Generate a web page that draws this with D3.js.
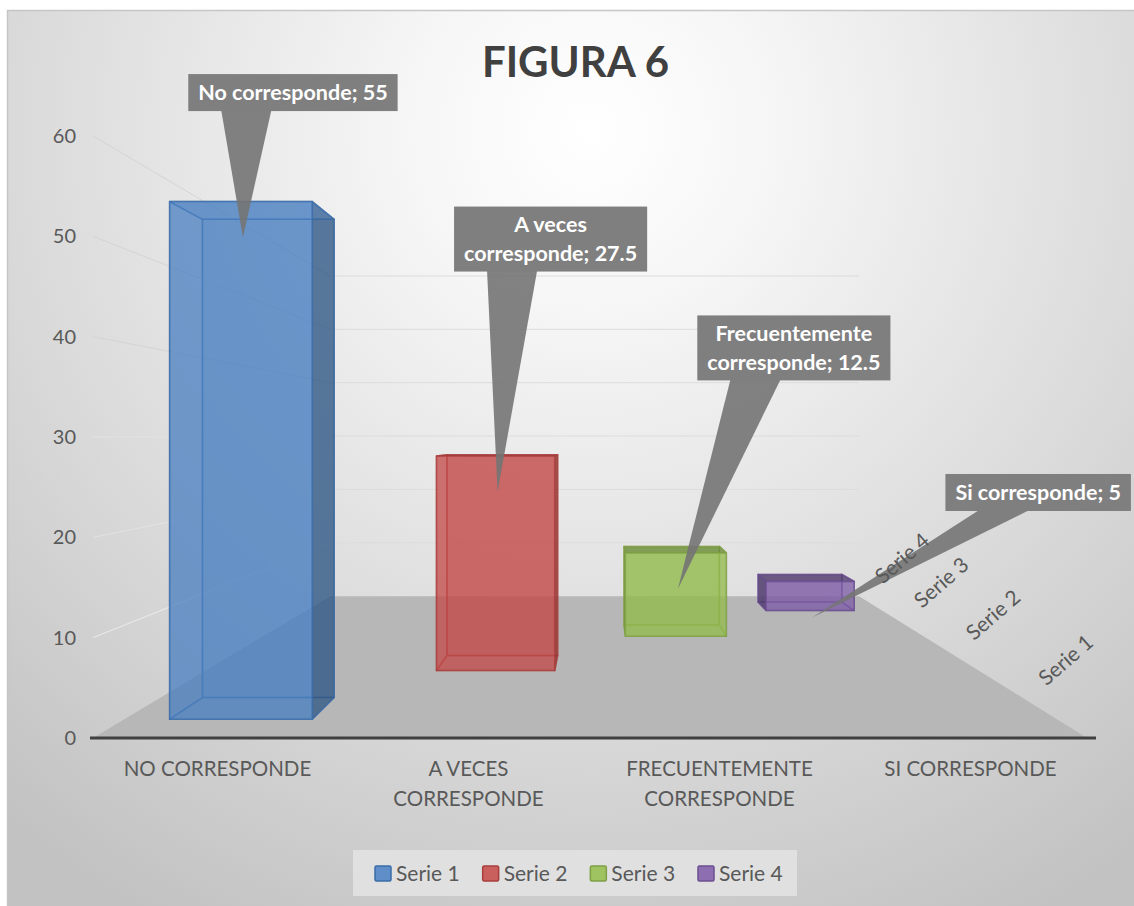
<!DOCTYPE html>
<html><head><meta charset="utf-8">
<style>html,body{margin:0;padding:0;background:#fff}svg{display:block}text{font-family:Lato,"Noto Sans",sans-serif}</style>
<script src="https://cdn.jsdelivr.net/npm/d3@7"></script></head><body>
<svg id="c" width="1134" height="906"></svg>
<script>
const title = "FIGURA 6";
const categories = ["NO CORRESPONDE","A VECES CORRESPONDE","FRECUENTEMENTE CORRESPONDE","SI CORRESPONDE"];
const categoryLines = [["NO CORRESPONDE"],["A VECES","CORRESPONDE"],["FRECUENTEMENTE","CORRESPONDE"],["SI CORRESPONDE"]];
const seriesNames = ["Serie 1","Serie 2","Serie 3","Serie 4"];
const values = [55,27.5,12.5,5];
const yTicks = [0,10,20,30,40,50,60];
const calloutLines = [["No corresponde; 55"],["A veces","corresponde; 27.5"],["Frecuentemente","corresponde; 12.5"],["Si corresponde; 5"]];
const calloutDx = [50,53,116,226];
const calloutDy = [-145,-253,-241,-125];
const barFill = ["#4a7fc0","#c24a48","#93bb4c","#7d5ba6"];
const barDark = ["#2f5480","#8a2f2d","#6a8a35","#4d3a6b"];
const barEdge = ["#3a6ca8","#a83f3c","#7f9f45","#6a4f90"];

const svg = d3.select("#c");
const W = 1134, H = 906;
const defs = svg.append("defs");
const bg = defs.append("radialGradient").attr("id","bg").attr("gradientUnits","userSpaceOnUse")
  .attr("cx",590).attr("cy",130).attr("r",900);
[[0,"#ffffff"],[.2,"#f6f6f6"],[.45,"#e6e6e6"],[.7,"#d6d6d6"],[1,"#c2c2c2"]].forEach(s=>bg.append("stop").attr("offset",s[0]).attr("stop-color",s[1]));
svg.append("rect").attr("x",7).attr("y",10).attr("width",W-7).attr("height",H-10).attr("fill","url(#bg)");
svg.append("path").attr("d",`M7.5,${H} V10.5 H${W}`).attr("fill","none").attr("stroke","#c6c6c6").attr("stroke-width",1.5);

// scales and perspective projection
const y = d3.scaleLinear().domain([0,60]).range([738,136]);
const x = d3.scaleBand().domain(categories).range([93,1087]).paddingInner(0.388).paddingOuter(0.194);
const xAxisScale = d3.scaleBand().domain(categories).range([92,1096]);
const depth = d3.scalePoint().domain(seriesNames).range([0.5,3.5]);
const vp = [600,435], k = 0.22, floorDepth = 4, barHalfDepth = 0.2;
const persp = d => 1/(1+k*d);
function project(X,Y,d){const s=persp(d);return [vp[0]+s*(X-vp[0]),vp[1]+s*(Y-vp[1])];}
const poly = pts => "M"+pts.map(p=>p.join(",")).join("L")+"Z";
const X0 = 93, X1 = 1087;

// floor
svg.append("path").attr("d",poly([project(X0,y(0),0),project(X0,y(0),floorDepth),project(X1,y(0),floorDepth),project(X1,y(0),0)])).attr("fill","#b7b7b7");
// gridlines: left wall + back wall
const grid = svg.append("g").attr("fill","none");
yTicks.forEach(t=>{
  if(t===0) return;
  const a=project(X0,y(t),0), b=project(X0,y(t),floorDepth), c=project(X1,y(t),floorDepth);
  grid.append("path").attr("d",`M${a}L${b}`).attr("stroke",t<=10?"#ececec":(t<=30?"#e2e2e2":"#d4d4d4")).attr("stroke-width",1);
  grid.append("path").attr("d",`M${b}L${c}`).attr("stroke","#dcdcdc").attr("stroke-width",1);
});

// bars
const gBars = svg.append("g");
values.forEach((v,i)=>{
  const cat=categories[i], xa=x(cat), xb=xa+x.bandwidth(), yt=y(v), yb=y(0);
  const d=depth(seriesNames[i]), f=d-barHalfDepth, r=d+barHalfDepth;
  const P=(X,Y,D)=>project(X,Y,D);
  const face=(pts,fill,op)=>gBars.append("path").attr("d",poly(pts)).attr("fill",fill).attr("fill-opacity",op)
      .attr("stroke",barEdge[i]).attr("stroke-width",1.5).attr("stroke-opacity",.65).attr("stroke-linejoin","round");
  const leftOuter = xa>vp[0], rightOuter = xb<vp[0], topOuter = yt>vp[1];
  face([P(xa,yt,r),P(xb,yt,r),P(xb,yb,r),P(xa,yb,r)],barFill[i],.3);
  face([P(xa,yb,f),P(xb,yb,f),P(xb,yb,r),P(xa,yb,r)],barFill[i],.2);
  face([P(xa,yt,f),P(xa,yt,r),P(xa,yb,r),P(xa,yb,f)],leftOuter?barDark[i]:barFill[i],leftOuter?.8:.12);
  face([P(xb,yt,f),P(xb,yt,r),P(xb,yb,r),P(xb,yb,f)],rightOuter?barDark[i]:barFill[i],rightOuter?.72:.12);
  face([P(xa,yt,f),P(xb,yt,f),P(xb,yt,r),P(xa,yt,r)],topOuter?barDark[i]:barFill[i],topOuter?.75:.3);
  face([P(xa,yt,f),P(xb,yt,f),P(xb,yb,f),P(xa,yb,f)],barFill[i],.72);
});

// axis baseline
svg.append("line").attr("x1",90).attr("x2",1096).attr("y1",y(0)).attr("y2",y(0)).attr("stroke","#404040").attr("stroke-width",3);

// y tick labels
svg.append("g").selectAll("text").data(yTicks).join("text")
  .attr("x",76).attr("y",d=>y(d)).attr("dy","0.35em").attr("text-anchor","end")
  .attr("font-size",20).attr("fill","#595959").text(d=>d);

// category labels
const gCat = svg.append("g");
categories.forEach((c,i)=>{
  const cx=xAxisScale(c)+xAxisScale.bandwidth()/2;
  categoryLines[i].forEach((l,j)=>gCat.append("text").attr("x",cx).attr("y",776+j*29.5).attr("text-anchor","middle")
    .attr("font-size",20.5).attr("fill","#595959").text(l));
});

// callouts
const gCall = svg.append("g");
values.forEach((v,i)=>{
  const cat=categories[i], cx=x(cat)+x.bandwidth()/2;
  const top=project(cx,y(v),depth(seriesNames[i])-barHalfDepth);
  const tip=[top[0]+2,top[1]+36];
  const bx=tip[0]+calloutDx[i], by=tip[1]+calloutDy[i];
  const g=gCall.append("g");
  const n=calloutLines[i].length, lh=29;
  const texts=calloutLines[i].map((l,j)=>g.append("text").attr("x",bx).attr("y",by+(j-(n-1)/2)*lh).attr("dy","0.35em")
    .attr("text-anchor","middle").attr("font-size",21.5).attr("font-weight",700).attr("fill","#fff").text(l));
  const w=Math.max(...texts.map(t=>t.node().getComputedTextLength()))+20;
  const h=n*lh+8+(n===1?0:-1);
  const left=bx-w/2, topY=by-h/2, bottom=by+h/2;
  g.insert("path","text").attr("d",poly([[left+33,bottom-.5],[left+83,bottom-.5],tip])).attr("fill","#747474").attr("fill-opacity",.9);
  g.insert("rect","text").attr("x",left).attr("y",topY).attr("width",w).attr("height",h).attr("fill","#7f7f7f");
});

// series depth labels (drawn over the callout wedges)
seriesNames.forEach(n=>{
  const p=project(X1,y(0),depth(n));
  svg.append("text").attr("transform",`translate(${p[0]+27},${p[1]-48}) rotate(-41)`).attr("text-anchor","middle").attr("dy","0.35em")
    .attr("font-size",21).attr("fill","#595959").text(n);
});

// title
svg.append("text").attr("x",575.5).attr("y",77).attr("text-anchor","middle").attr("font-size",42).attr("font-weight",700).attr("fill","#404040").text(title);

// legend
svg.append("rect").attr("x",353).attr("y",850).attr("width",444).attr("height",46).attr("fill","#e0e0e0");
const legX = d3.scalePoint().domain(seriesNames).range([375,698]);
seriesNames.forEach((n,i)=>{
  svg.append("rect").attr("x",legX(n)).attr("y",866).attr("width",16).attr("height",15).attr("rx",1.5)
    .attr("fill",d3.interpolateRgb(barFill[i],"#ffffff")(.12)).attr("stroke",barEdge[i]).attr("stroke-width",1.5);
  svg.append("text").attr("x",legX(n)+21).attr("y",881).attr("font-size",21).attr("fill","#595959").text(n);
});
</script></body></html>
